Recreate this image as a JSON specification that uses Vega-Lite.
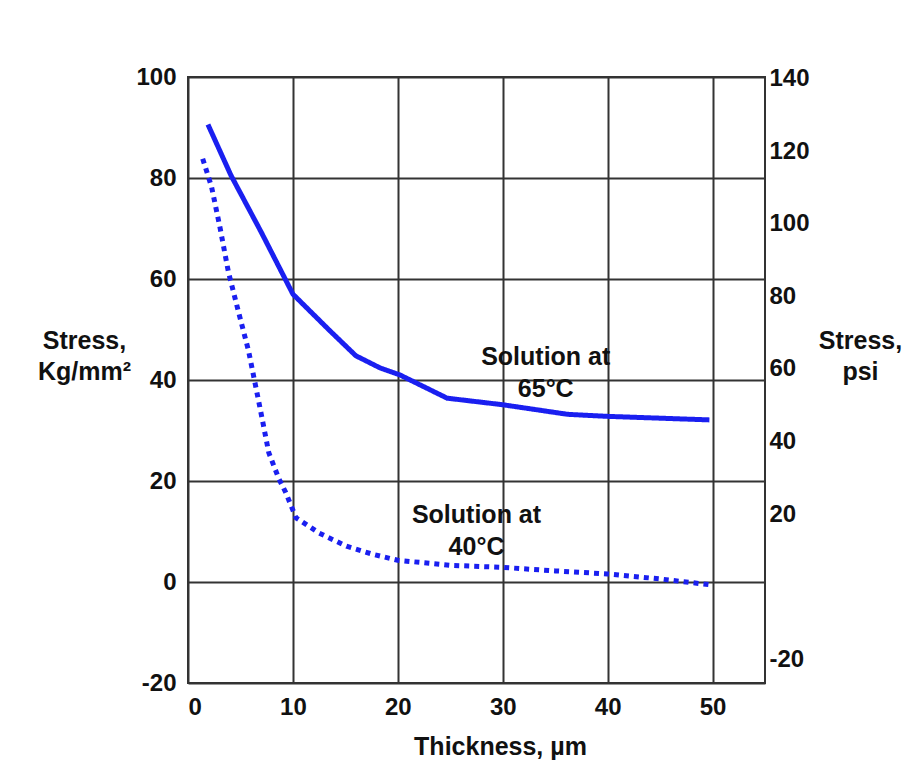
{
  "$schema": "https://vega.github.io/schema/vega-lite/v6.json",
  "width": 577,
  "height": 606,
  "autosize": {"type": "none"},
  "padding": {"left": 188, "top": 77, "right": 143, "bottom": 101},
  "background": "white",
  "config": {
    "font": "Liberation Sans",
    "view": {"stroke": "#333", "strokeWidth": 2},
    "axis": {
      "labelFont": "Liberation Sans",
      "labelFontWeight": "bold",
      "labelFontSize": 24,
      "labelColor": "#111",
      "labelExpr": "'' + datum.value",
      "titleFont": "Liberation Sans",
      "titleFontWeight": "bold",
      "titleFontSize": 25,
      "titleColor": "#111",
      "gridColor": "#333",
      "gridWidth": 2,
      "gridOpacity": 1,
      "domain": false,
      "ticks": false
    }
  },
  "datasets": {
    "curves": [
      {"series": "65", "t": 1.9, "stress": 90.6},
      {"series": "65", "t": 4.1, "stress": 80.5},
      {"series": "65", "t": 7.0, "stress": 69.2},
      {"series": "65", "t": 10.0, "stress": 57.0},
      {"series": "65", "t": 13.5, "stress": 49.8},
      {"series": "65", "t": 16.0, "stress": 44.8},
      {"series": "65", "t": 18.3, "stress": 42.4},
      {"series": "65", "t": 20.2, "stress": 41.0},
      {"series": "65", "t": 24.7, "stress": 36.4},
      {"series": "65", "t": 30.0, "stress": 35.1},
      {"series": "65", "t": 36.2, "stress": 33.2},
      {"series": "65", "t": 40.0, "stress": 32.8},
      {"series": "65", "t": 49.7, "stress": 32.1},
      {"series": "40", "t": 1.4, "stress": 83.8},
      {"series": "40", "t": 2.24, "stress": 78.3},
      {"series": "40", "t": 3.05, "stress": 70.2},
      {"series": "40", "t": 3.85, "stress": 61.4},
      {"series": "40", "t": 4.8, "stress": 53.6},
      {"series": "40", "t": 5.77, "stress": 45.8},
      {"series": "40", "t": 6.9, "stress": 34.1},
      {"series": "40", "t": 7.7, "stress": 25.6},
      {"series": "40", "t": 8.65, "stress": 20.5},
      {"series": "40", "t": 9.3, "stress": 17.8},
      {"series": "40", "t": 10.3, "stress": 12.7},
      {"series": "40", "t": 12.5, "stress": 9.7},
      {"series": "40", "t": 15.1, "stress": 7.1},
      {"series": "40", "t": 17.6, "stress": 5.5},
      {"series": "40", "t": 20.0, "stress": 4.3},
      {"series": "40", "t": 25.0, "stress": 3.3},
      {"series": "40", "t": 30.0, "stress": 2.9},
      {"series": "40", "t": 35.0, "stress": 2.2},
      {"series": "40", "t": 40.0, "stress": 1.6},
      {"series": "40", "t": 45.0, "stress": 0.6},
      {"series": "40", "t": 50.0, "stress": -0.6}
    ],
    "notes": [
      {"t": 34.1, "stress": 44.6, "label": "Solution at\n65°C"},
      {"t": 27.5, "stress": 13.3, "label": "Solution at\n40°C"}
    ],
    "psi": [
      {"psi": 140}, {"psi": 120}, {"psi": 100}, {"psi": 80},
      {"psi": 60}, {"psi": 40}, {"psi": 20}, {"psi": -20}
    ]
  },
  "layer": [
    {
      "layer": [
        {
          "data": {"name": "curves"},
          "mark": {"type": "line", "strokeWidth": 5, "strokeCap": "butt", "strokeJoin": "round"},
          "encoding": {
            "x": {
              "field": "t", "type": "quantitative",
              "scale": {"domain": [0, 55], "nice": false, "zero": false},
              "axis": {
                "values": [0, 10, 20, 30, 40, 50],
                "grid": true,
                "labelPadding": 12,
                "title": "Thickness, µm",
                "titleX": 312,
                "titleY": 51,
                "titleAnchor": null,
                "titleAlign": "center",
                "titleBaseline": "top"
              }
            },
            "y": {
              "field": "stress", "type": "quantitative",
              "scale": {"domain": [-20, 100], "nice": false, "zero": false},
              "axis": {
                "values": [-20, 0, 20, 40, 60, 80, 100],
                "grid": true,
                "labelPadding": 12,
                "title": ["Stress,", "Kg/mm²"],
                "titleAngle": 0,
                "titleX": -104,
                "titleY": 251,
                "titleAlign": "center",
                "titleBaseline": "top",
                "titleLineHeight": 31
              }
            },
            "color": {
              "field": "series", "type": "nominal",
              "scale": {"domain": ["65", "40"], "range": ["#1a1ff0", "#1a1ff0"]},
              "legend": null
            },
            "strokeDash": {
              "field": "series", "type": "nominal",
              "scale": {"domain": ["65", "40"], "range": [[1, 0], [5, 5]]},
              "legend": null
            }
          }
        },
        {
          "data": {"name": "notes"},
          "mark": {
            "type": "text",
            "lineBreak": "\n",
            "font": "Liberation Sans",
            "fontWeight": "bold",
            "fontSize": 25,
            "color": "#111",
            "align": "center",
            "baseline": "middle",
            "lineHeight": 32
          },
          "encoding": {
            "x": {"field": "t", "type": "quantitative"},
            "y": {"field": "stress", "type": "quantitative"},
            "text": {"field": "label"}
          }
        }
      ]
    },
    {
      "data": {"name": "psi"},
      "mark": {"type": "tick", "opacity": 0},
      "encoding": {
        "y": {
          "field": "psi", "type": "quantitative",
          "scale": {"domain": [-26.6, 140.5], "nice": false, "zero": false},
          "axis": {
            "orient": "right",
            "values": [-20, 20, 40, 60, 80, 100, 120, 140],
            "grid": false,
            "labelPadding": 4,
            "title": ["Stress,", "psi"],
            "titleAngle": 0,
            "titleX": 95,
            "titleY": 251,
            "titleAlign": "center",
            "titleBaseline": "top",
            "titleLineHeight": 31
          }
        }
      }
    }
  ],
  "resolve": {"scale": {"y": "independent"}}
}
